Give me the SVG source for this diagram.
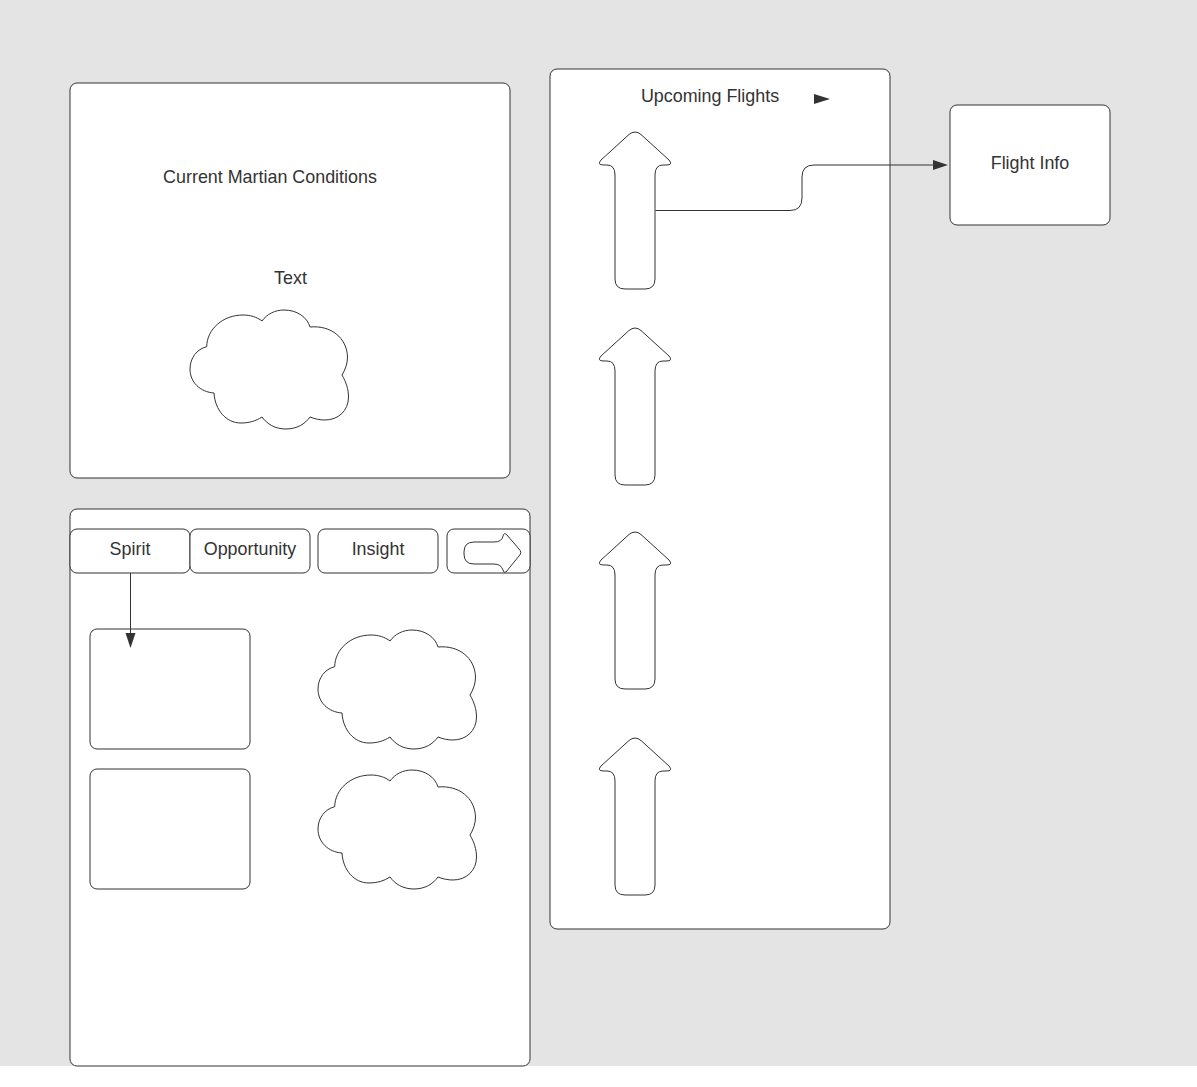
<svg xmlns="http://www.w3.org/2000/svg" width="1197" height="1087" viewBox="0 0 1197 1087">
<style>
.s{fill:#fff;stroke:#333;stroke-width:1;stroke-linejoin:round}
.c{fill:none;stroke:#333;stroke-width:1}
.h{fill:#333;stroke:none}
text{font-family:"Liberation Sans",Arial,sans-serif;font-size:17.9px;fill:#333;text-anchor:middle}
</style>
<defs>
<path id="cloud" class="s" d="M206.700 346.700C207 329 223 315 243 315C250 315 257 317 262 321C267 314 275 310 284 310C297 310 307 317 310 327C331 325 347 338 347.500 357C347.500 364 345 370 342 375C346 382 348.500 389 348.500 397C348.500 411 338 420 325 420C320 420 315 419 310 417C305 424 297 429 286 429C275 429 267 424 262 417C256 421 249 423 241 423C226 423 215 410 214 393C200 392 190 382 190 369C190 358 197 349 206.700 346.700Z"/>
<path id="up" class="s" d="M629 134.500Q635 129.500 641 134.500L669 160Q673.500 165 666 165L663 165Q655 165 655 175L655 279Q655 289 645 289L625 289Q615 289 615 279L615 175Q615 165 607 165L604 165Q596.500 165 601 160Z"/>
</defs>
<rect width="1197" height="1066" fill="#e4e4e4"/>
<g id="panel-conditions"><rect class="s" x="70" y="83" width="440" height="395" rx="7"/>
<text x="270" y="183">Current Martian Conditions</text>
<text x="290.500" y="284">Text</text></g>
<g id="cloud-conditions"><use href="#cloud"/></g>
<g id="panel-rovers"><rect class="s" x="70" y="509" width="460" height="557" rx="7"/></g>
<g id="tab-spirit"><rect class="s" x="70" y="529" width="120" height="44" rx="7"/><text x="130" y="555">Spirit</text></g>
<g id="tab-opportunity"><rect class="s" x="190" y="529" width="120" height="44" rx="7"/><text x="250" y="555">Opportunity</text></g>
<g id="tab-insight"><rect class="s" x="318" y="529" width="120" height="44" rx="7"/><text x="378" y="555">Insight</text></g>
<g id="tab-next"><rect class="s" x="447" y="529" width="83" height="44" rx="7"/>
<path class="s" d="M474 542L494 542Q502 542 503 536Q504 532 507 535L519 549Q522.500 552.500 519 556L506 572Q504 574 503 570Q501 564 494 564L474 564Q464 564 464 554L464 552Q464 542 474 542Z"/></g>
<g id="box-1"><rect class="s" x="90" y="629" width="160" height="120" rx="7"/></g>
<g id="box-2"><rect class="s" x="90" y="769" width="160" height="120" rx="7"/></g>
<g id="cloud-1"><use href="#cloud" x="128" y="320"/></g>
<g id="cloud-2"><use href="#cloud" x="128" y="460"/></g>
<g id="panel-flights"><rect class="s" x="550" y="69" width="340" height="860" rx="7"/><text x="710" y="102">Upcoming Flights</text></g>
<g id="flight-1"><use href="#up"/></g>
<g id="flight-2"><use href="#up" y="196"/></g>
<g id="flight-3"><use href="#up" y="400"/></g>
<g id="flight-4"><use href="#up" y="606"/></g>
<g id="flight-info"><rect class="s" x="950" y="105" width="160" height="120" rx="7"/><text x="1030" y="169">Flight Info</text></g>
<g id="connectors">
<path class="c" d="M130.500 573L130.500 634"/>
<polygon class="h" points="125.500,633 135.500,633 130.500,648"/>
<path class="c" d="M655.500 210.500L790 210.500Q802 210.500 802 198L802 177Q802 165 814 165L934 165"/>
<polygon class="h" points="933,160 948,165 933,170"/>
<polygon class="h" points="814,94 830,99 814,104"/>
</g>
</svg>
